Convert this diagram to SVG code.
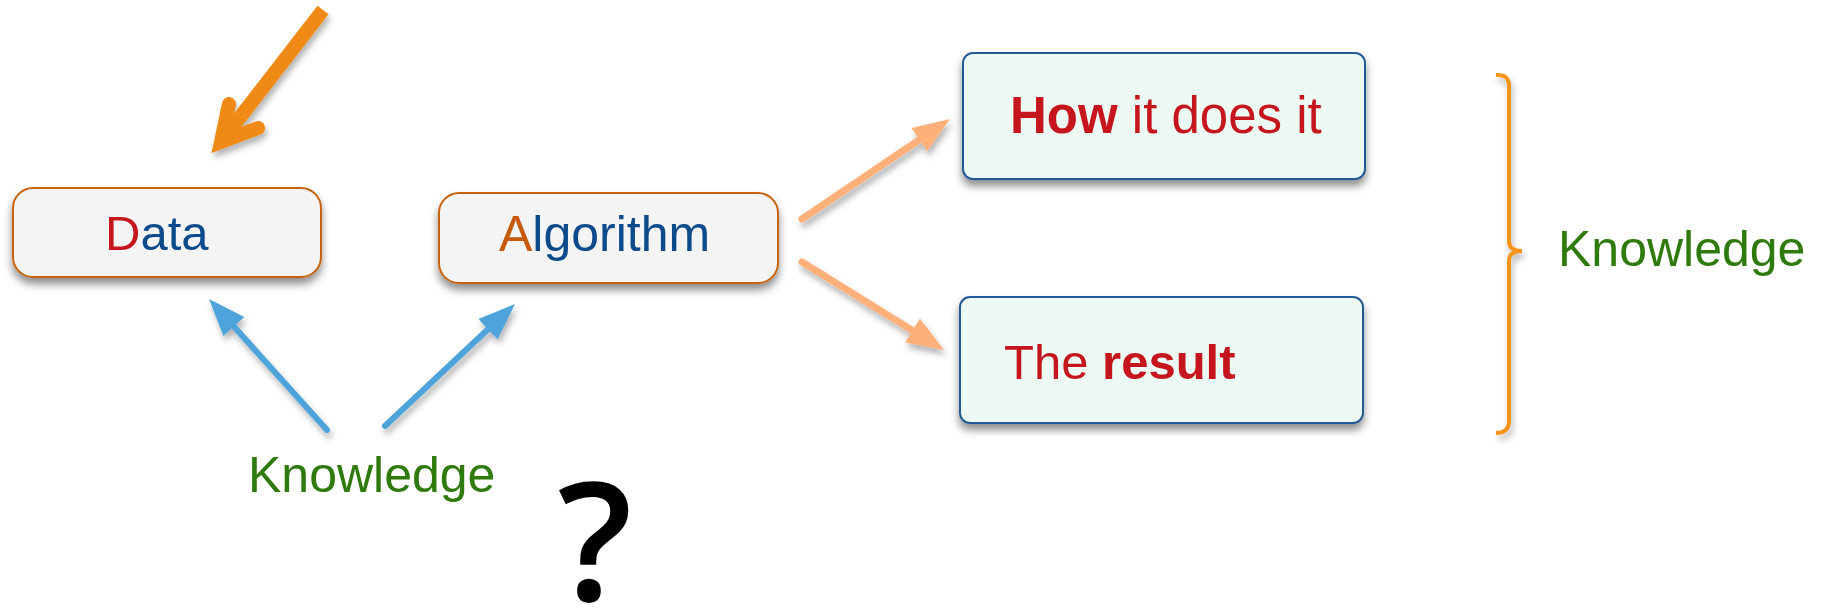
<svg xmlns="http://www.w3.org/2000/svg" width="1824" height="609" viewBox="0 0 1824 609">
<defs>
<filter id="boxShadow" x="-10%" y="-20%" width="120%" height="150%">
<feDropShadow dx="0" dy="6" stdDeviation="4" flood-color="#000" flood-opacity="0.45"/>
</filter>
<filter id="arrowShadow" x="-20%" y="-20%" width="140%" height="140%">
<feDropShadow dx="2" dy="5" stdDeviation="3" flood-color="#000" flood-opacity="0.3"/>
</filter>
</defs>
<style>
.sans { font-family: "Liberation Sans", Arial, sans-serif; }
.qmark { font-family: "Open Sans", "DejaVu Sans", sans-serif; font-weight: 600; font-size: 165px; fill: #000; }
.boxA { fill: #f4f4f4; stroke: #c8640f; stroke-width: 2; }
.boxB { fill: #ecfaf3; stroke: #245a92; stroke-width: 2; }
.lbl { font-size: 50px; }
.red { fill: #c4161c; }
.blue { fill: #0b4a8b; }
.orng { fill: #c55a0a; }
.green { fill: #2f7a0c; }
.lightArrow { stroke: #feb07a; stroke-width: 7; stroke-linecap: round; fill: none; }
.lightHead { fill: #feb07a; }
.blueArrow { stroke: #4ea3da; stroke-width: 6; stroke-linecap: round; fill: none; }
.blueHead { fill: #4ea3da; }
</style>
<rect width="1824" height="609" fill="#ffffff"/>

<g id="data">
<rect class="boxA" x="13" y="188" width="308" height="89" rx="20" filter="url(#boxShadow)"/>
<text class="sans" x="105" y="250" font-size="49"><tspan class="red">D</tspan><tspan class="blue">ata</tspan></text>
</g>

<g id="algorithm">
<rect class="boxA" x="439" y="193" width="339" height="90" rx="20" filter="url(#boxShadow)"/>
<text class="sans lbl" x="499" y="251"><tspan class="orng">A</tspan><tspan class="blue">lgorithm</tspan></text>
</g>

<g id="how">
<rect class="boxB" x="963" y="53" width="402" height="126" rx="10" filter="url(#boxShadow)"/>
<text class="sans red" x="1010" y="133" font-size="51"><tspan font-weight="bold">How</tspan> it does it</text>
</g>

<g id="result">
<rect class="boxB" x="960" y="297" width="403" height="126" rx="10" filter="url(#boxShadow)"/>
<text class="sans red" x="1004" y="379" font-size="49">The <tspan font-weight="bold">result</tspan></text>
</g>

<g id="knowledge-left">
<text class="sans lbl green" x="248" y="492">Knowledge</text>
</g>

<g id="knowledge-right">
<text class="sans lbl green" x="1558" y="266">Knowledge</text>
</g>

<g id="question">
<text class="qmark" x="595" y="601" text-anchor="middle">?</text>
</g>

<g id="brace">
<path d="M1496,75 Q1509,74 1509,86 L1509,241 Q1509,251 1522,251 Q1509,251 1509,261 L1509,421 Q1509,433 1496,433" fill="none" stroke="#f7941d" stroke-width="4" filter="url(#arrowShadow)"/>
</g>

<g id="connectors">
<g filter="url(#arrowShadow)">
<line x1="323" y1="10" x2="224" y2="138" stroke="#ef8a12" stroke-width="14"/>
<polyline points="229,104 221,142 258,128" fill="none" stroke="#ef8a12" stroke-width="14" stroke-linecap="round" stroke-linejoin="miter"/>
</g>
<g filter="url(#arrowShadow)">
<line class="lightArrow" x1="802" y1="219" x2="925" y2="136"/>
<polygon class="lightHead" points="950,119 927.2,151.3 911.5,128.1"/>
</g>
<g filter="url(#arrowShadow)">
<line class="lightArrow" x1="802" y1="262" x2="918.5" y2="334.2"/>
<polygon class="lightHead" points="944,350 905.2,342.4 919.9,318.6"/>
</g>
<g filter="url(#arrowShadow)">
<line class="blueArrow" x1="327" y1="430" x2="229.1" y2="321.3"/>
<polygon class="blueHead" points="209,299 244.2,317.1 223.4,335.9"/>
</g>
<g filter="url(#arrowShadow)">
<line class="blueArrow" x1="385" y1="426" x2="493.1" y2="324.5"/>
<polygon class="blueHead" points="515,304 497.6,339.5 478.4,319.1"/>
</g>
</g>
</svg>
